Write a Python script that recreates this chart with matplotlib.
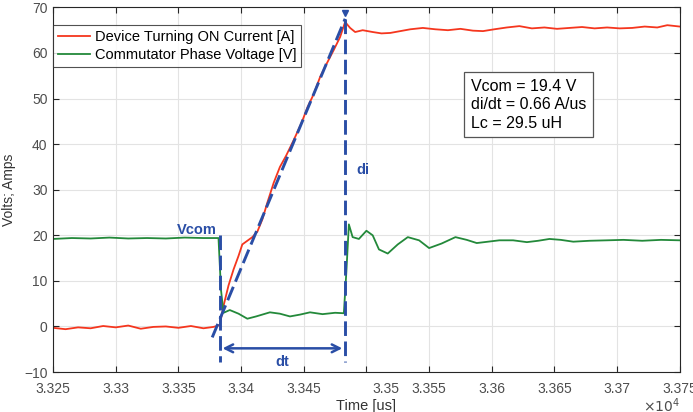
import matplotlib.pyplot as plt
from matplotlib import transforms

plt.rcParams['font.family'] = ['Liberation Sans', 'DejaVu Sans']

# Device turning ON current [A], time in us
t_cur = [33250, 33260, 33270, 33280, 33290, 33300, 33310, 33320, 33330, 33340,
         33350, 33360, 33370, 33378, 33383, 33386, 33390, 33394, 33398, 33401,
         33405, 33409, 33413, 33417, 33421, 33426, 33431, 33436, 33442, 33448,
         33453, 33458, 33463, 33468, 33474, 33479, 33483, 33487, 33491, 33497,
         33505, 33512, 33519, 33527, 33535, 33545, 33555, 33565, 33575, 33585,
         33593, 33602, 33612, 33622, 33632, 33642, 33652, 33662, 33672, 33682,
         33692, 33702, 33712, 33722, 33732, 33740, 33750]
i_cur = [-0.3, -0.6, -0.2, -0.4, 0.1, -0.2, 0.2, -0.5, -0.1, 0.0,
         -0.3, 0.1, -0.4, -0.1, 0.3, 4.5, 9.0, 12.5, 15.5, 18.0,
         18.8, 19.6, 20.8, 23.5, 27.2, 31.5, 35.0, 37.5, 40.9, 44.5,
         48.1, 51.0, 54.7, 57.5, 60.7, 63.5, 66.8, 65.5, 64.6, 65.0,
         64.6, 64.3, 64.4, 64.8, 65.2, 65.5, 65.2, 65.0, 65.3, 64.9,
         64.8, 65.2, 65.6, 65.9, 65.4, 65.6, 65.3, 65.5, 65.7, 65.4,
         65.6, 65.4, 65.5, 65.8, 65.6, 66.1, 65.8]

# Commutator phase voltage [V]
t_vol = [33250, 33265, 33280, 33295, 33310, 33325, 33340, 33355, 33370, 33382,
         33384, 33386, 33391, 33398, 33405, 33412, 33423, 33431, 33439, 33447,
         33455, 33465, 33475, 33482, 33484, 33486, 33489, 33494, 33500, 33505,
         33510, 33517, 33525, 33533, 33542, 33550, 33560, 33571, 33580, 33588,
         33597, 33606, 33617, 33628, 33637, 33646, 33655, 33665, 33678, 33692,
         33705, 33720, 33735, 33750]
v_vol = [19.2, 19.4, 19.3, 19.5, 19.3, 19.4, 19.3, 19.5, 19.4, 19.4,
         8.0, 3.0, 3.6, 2.8, 1.7, 2.2, 3.1, 2.8, 2.2, 2.6,
         3.1, 2.7, 3.0, 2.9, 12.0, 22.4, 19.6, 19.2, 21.0, 20.0,
         16.9, 16.0, 18.0, 19.6, 18.9, 17.2, 18.2, 19.6, 19.0, 18.3,
         18.6, 18.9, 18.9, 18.5, 18.8, 19.2, 19.0, 18.6, 18.8, 18.9,
         19.0, 18.8, 19.0, 18.9]

xticks = [33250, 33300, 33350, 33400, 33450, 33500, 33550, 33600, 33650, 33700, 33750]
xlabels = ['3.325', '3.33', '3.335', '3.34', '3.345', '3.35', '3.355', '3.36',
           '3.365', '3.37', '3.375']
yticks = [-10, 0, 10, 20, 30, 40, 50, 60, 70]

# annotation geometry (time, value)
t_on, t_peak = 33383, 33483
slope_x = [33377, 33483]
slope_y = [-2.4, 67.5]

blue = '#2a4ea6'
fig = plt.figure(figsize=(6.93, 4.12), dpi=100)
ax = fig.add_axes([0.0765, 0.097, 0.9045, 0.885])

ax.plot(t_cur, i_cur, color='#f5361e', lw=1.3, label='Device Turning ON Current [A]')
ax.plot(t_vol, v_vol, color='#23893a', lw=1.3, label='Commutator Phase Voltage [V]')

dash = dict(color=blue, lw=2.1, ls=(0, (5.0, 1.9)))
ax.plot(slope_x, slope_y, **dash)
ax.plot([t_on, t_on], [20, -7.8], **dash)
ax.plot([t_peak, t_peak], [67.5, -7.8], **dash)
ax.plot([t_peak], [68.8], marker='v', color=blue, ms=4.5, ls='none')
ax.annotate('', xy=(t_on, -4.8), xytext=(t_peak, -4.8),
            arrowprops=dict(arrowstyle='<->', color=blue, lw=1.8,
                            mutation_scale=14))
ax.text(t_on - 2, 19.7, 'Vcom', color=blue, fontsize=10.5, fontweight='bold',
        ha='right', va='bottom')
ax.text(t_peak + 9, 34.3, 'di', color=blue, fontsize=10.5, fontweight='bold',
        ha='left', va='center')
ax.text(33433, -7.7, 'dt', color=blue, fontsize=10.5, fontweight='bold',
        ha='center', va='center')

ax.text(0.667, 0.805, 'Vcom = 19.4 V\ndi/dt = 0.66 A/us\nLc = 29.5 uH',
        transform=ax.transAxes, fontsize=11.5, va='top', ha='left',
        linespacing=1.3,
        bbox=dict(boxstyle='square,pad=0.42', fc='white', ec='#555555', lw=0.9))

ax.set_xlim(33250, 33750)
ax.set_ylim(-10, 70)
ax.set_xticks(xticks)
ax.set_xticklabels(xlabels)
ax.set_yticks(yticks)
ax.tick_params(direction='in', top=True, right=True, labelsize=10,
               colors='#262626', labelcolor='#4d4d4d', length=4)
ax.tick_params(axis='x', pad=7)
ax.tick_params(axis='y', pad=4)
# the 3.35 label sits shifted right in the reference
lab = ax.get_xticklabels()[5]
lab.set_transform(lab.get_transform() + transforms.ScaledTranslation(19 / 100, 0, fig.dpi_scale_trans))
ax.grid(True, color='#e3e3e3', lw=0.8)
ax.set_axisbelow(True)
for s in ax.spines.values():
    s.set_color('#262626')
    s.set_linewidth(0.8)

ax.set_xlabel('Time [us]', fontsize=10.5, color='#333333', labelpad=2)
ax.set_ylabel('Volts; Amps', fontsize=10, color='#333333', labelpad=6)
ax.text(1.0, -0.068, r'$\times 10^4$', transform=ax.transAxes, fontsize=10,
        color='#4d4d4d', ha='right', va='top')

leg = ax.legend(loc='upper left', bbox_to_anchor=(0.0, 0.953), fontsize=10.5,
                frameon=True, fancybox=False, edgecolor='#262626',
                handlelength=2.2, handletextpad=0.3, borderpad=0.35,
                labelspacing=0.3, borderaxespad=0.0)
leg.get_frame().set_linewidth(0.8)

fig.savefig('out.png', dpi=100)
